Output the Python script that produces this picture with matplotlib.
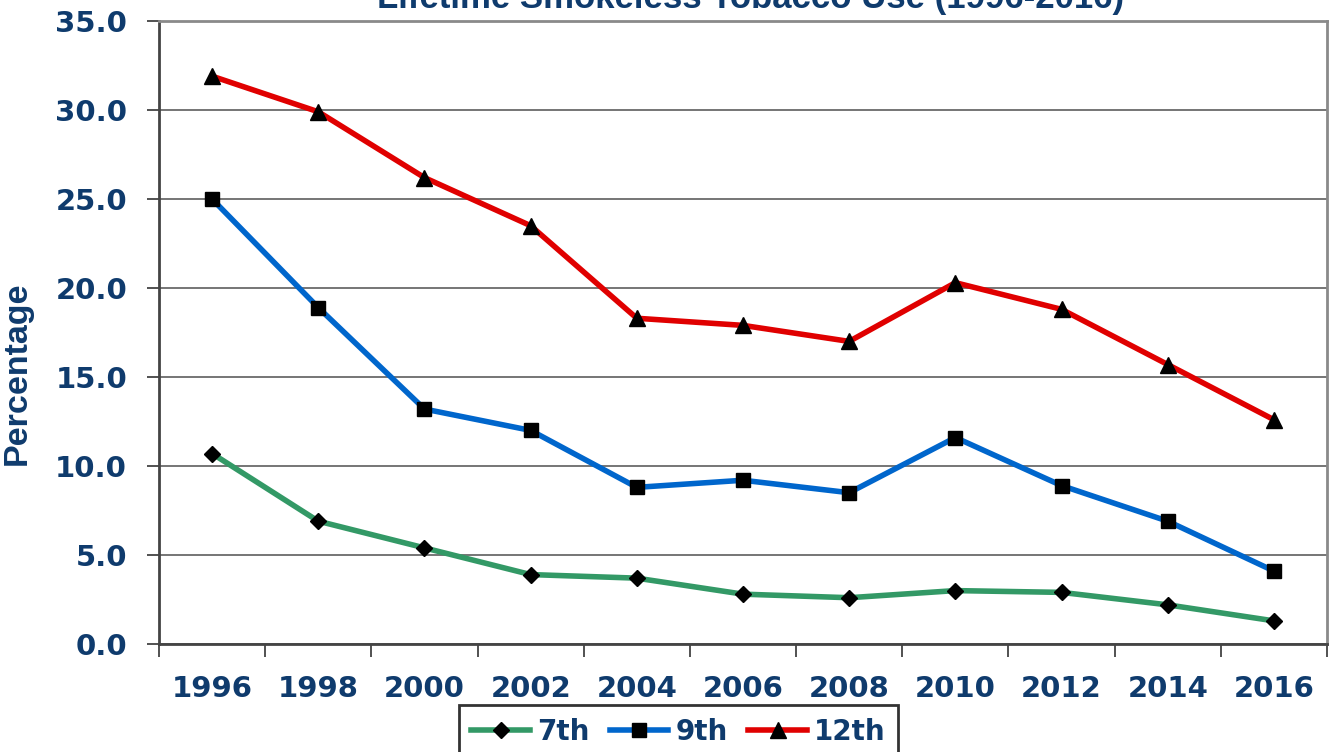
import matplotlib.pyplot as plt
import numpy as np
from matplotlib.ticker import FormatStrFormatter

years = ["1996", "1998", "2000", "2002", "2004", "2006", "2008", "2010", "2012", "2014", "2016"]
grade_7 = [10.7, 6.9, 5.4, 3.9, 3.7, 2.8, 2.6, 3.0, 2.9, 2.2, 1.3]
grade_9 = [25.0, 18.9, 13.2, 12.0, 8.8, 9.2, 8.5, 11.6, 8.9, 6.9, 4.1]
grade_12 = [31.9, 29.9, 26.2, 23.5, 18.3, 17.9, 17.0, 20.3, 18.8, 15.7, 12.6]
yticks = [0, 5, 10, 15, 20, 25, 30, 35]

navy = "#0f3b6d"

fig = plt.figure(figsize=(13.31, 7.52), dpi=100)
ax = fig.add_axes([159 / 1331, 1 - 644 / 752, (1327 - 159) / 1331, (644 - 21) / 752])

x = np.arange(len(years))
ax.plot(x, grade_7, color="#339966", lw=4, marker="D", ms=7.8,
        mfc="black", mec="black", label="7th", zorder=3)
ax.plot(x, grade_9, color="#0066cc", lw=4, marker="s", ms=10.5,
        mfc="black", mec="black", label="9th", zorder=3)
ax.plot(x, grade_12, color="#e00000", lw=4, marker="^", ms=11.5,
        mfc="black", mec="black", label="12th", zorder=3)

ax.set_xlim(-0.5, len(years) - 0.5)
ax.set_ylim(0, 35)
ax.set_yticks(yticks)
ax.yaxis.set_major_formatter(FormatStrFormatter("%.1f"))
ax.grid(axis="y", color="#6a6a6a", lw=1.3)
ax.set_axisbelow(True)

# years sit between the boundary ticks
ax.set_xticks(x)
ax.set_xticklabels(years)
ax.set_xticks(np.arange(-0.5, len(years)), minor=True)
ax.tick_params(axis="x", which="major", length=0, pad=22)
ax.tick_params(axis="x", which="minor", length=9, width=1.2, color="#333333")
ax.tick_params(axis="y", length=9, width=1.2, color="#333333", pad=14)

for lbl in ax.get_xticklabels() + ax.get_yticklabels():
    lbl.set_fontsize(21)
    lbl.set_fontweight("bold")
    lbl.set_color(navy)
    lbl.set_family("DejaVu Sans")

for side in ["left", "bottom"]:
    ax.spines[side].set_color("#444444")
    ax.spines[side].set_linewidth(2)
for side in ["top", "right"]:
    ax.spines[side].set_color("#8a8a8a")
    ax.spines[side].set_linewidth(2)

ax.set_ylabel("Percentage", fontsize=24.5, fontweight="bold", color=navy,
              family="Liberation Sans")
ax.yaxis.set_label_coords(-0.108, 0.435)

fig.text(751 / 1331, 1 - 8 / 752, "Lifetime Smokeless Tobacco Use (1996-2016)",
         ha="center", va="baseline", fontsize=25, fontweight="bold",
         color=navy, family="Liberation Sans")

leg = fig.legend(loc="upper left", bbox_to_anchor=(459 / 1331, 1 - 705 / 752),
                 ncol=3, frameon=True, fancybox=False, handlelength=2.1,
                 handletextpad=0.25, columnspacing=0.75, borderpad=0.45,
                 borderaxespad=0,
                 prop={"family": "DejaVu Sans", "weight": "bold", "size": 20})
leg.get_frame().set_edgecolor("black")
leg.get_frame().set_linewidth(2)
for t in leg.get_texts():
    t.set_color(navy)

fig.savefig("out.png", dpi=100)
